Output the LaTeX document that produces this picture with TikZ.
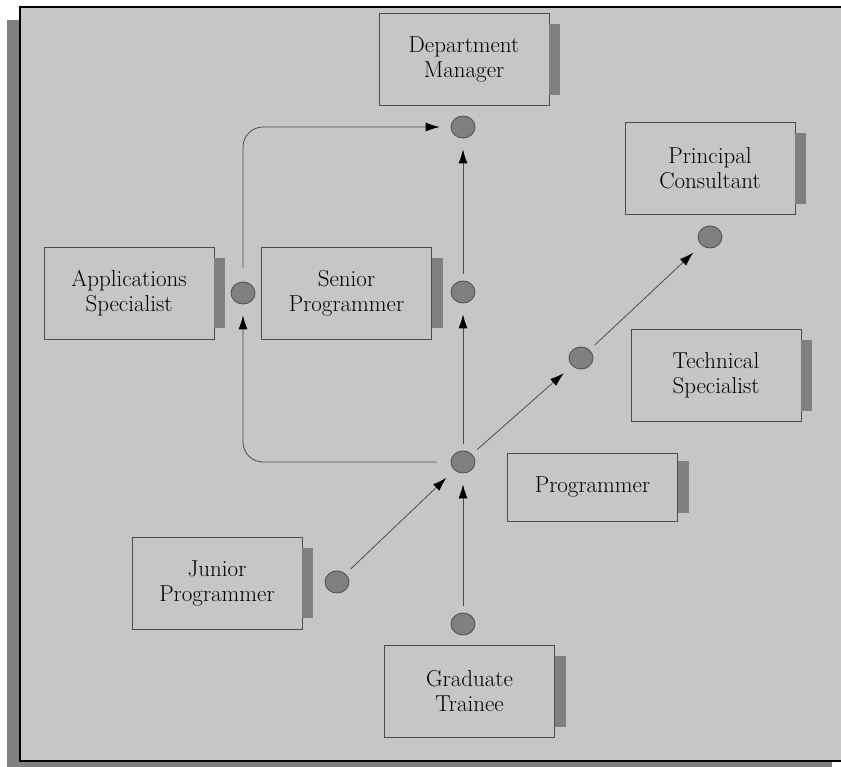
\documentclass[tikz,border=0pt]{standalone}
\usetikzlibrary{arrows.meta,shapes.geometric}

\definecolor{panel}{gray}{0.776}
\definecolor{tabgray}{gray}{0.5}
\definecolor{edge}{gray}{0.3}

\begin{document}
\begin{tikzpicture}[
    x=1pt, y=-1pt,
    box/.style={rectangle, draw=edge, line width=0.9pt, minimum width=170pt, minimum height=92pt, align=center, font=\fontsize{23}{25}\selectfont, inner sep=2pt},
    dot/.style={ellipse, draw=edge, line width=0.8pt, fill=tabgray, minimum width=24pt, minimum height=22pt, inner sep=0pt},
    link/.style={draw=edge, line width=0.8pt, shorten <=7pt, shorten >=11pt, -{Latex[length=14pt, width=9pt, color=black]}},
  ]
    \useasboundingbox (0,0) rectangle (841,767);
    \clip (0,0) rectangle (841,767);

    % Frame with its shadow
    \fill[tabgray] (7,20) rectangle (832,774);
    \draw[fill=panel, line width=2.5pt] (20,7) rectangle (845,761);

    % Job boxes
    \node[box] (dept) at (464,59.5) {Department\\Manager};
    \node[box] (princ) at (710,168.5) {Principal\\Consultant};
    \node[box] (appl) at (129,293) {Applications\\Specialist};
    \node[box] (senior) at (346.5,293) {Senior\\Programmer};
    \node[box] (tech) at (716,375.5) {Technical\\Specialist};
    \node[box, minimum height=68pt] (prog) at (592.5,487) {Programmer};
    \node[box] (junior) at (217,583) {Junior\\Programmer};
    \node[box] (grad) at (469.5,691.5) {Graduate\\Trainee};

    % Tabs on the right of the boxes
    \foreach \n/\i in {dept/11, princ/11, appl/11, senior/11, tech/11, prog/8, junior/11, grad/11}
      \fill[tabgray] ([yshift=-\i pt]\n.north east) rectangle ([xshift=11pt, yshift=\i pt]\n.south east);

    % Grade points
    \node[dot] (cdept) at (463,127) {};
    \node[dot] (cappl) at (243,293) {};
    \node[dot] (csenior) at (463,292) {};
    \node[dot] (cprinc) at (710,237) {};
    \node[dot] (cmid) at (581,358) {};
    \node[dot] (cprog) at (463,462) {};
    \node[dot] (cjunior) at (337,582) {};
    \node[dot] (cgrad) at (463,624) {};

    % Arrows
    \draw[link] (cgrad) -- (cprog);
    \draw[link] (cjunior) -- (cprog);
    \draw[link] (cprog) -- (csenior);
    \draw[link] (csenior) -- (cdept);
    \draw[link] (cprog) -- (cmid);
    \draw[link] (cmid) -- (cprinc);
    \draw[link, rounded corners=20pt, shorten <=14pt] (cprog) -| (cappl);
    \draw[link, rounded corners=20pt, shorten <=14pt] (cappl) |- (cdept);
  \end{tikzpicture}
\end{document}
